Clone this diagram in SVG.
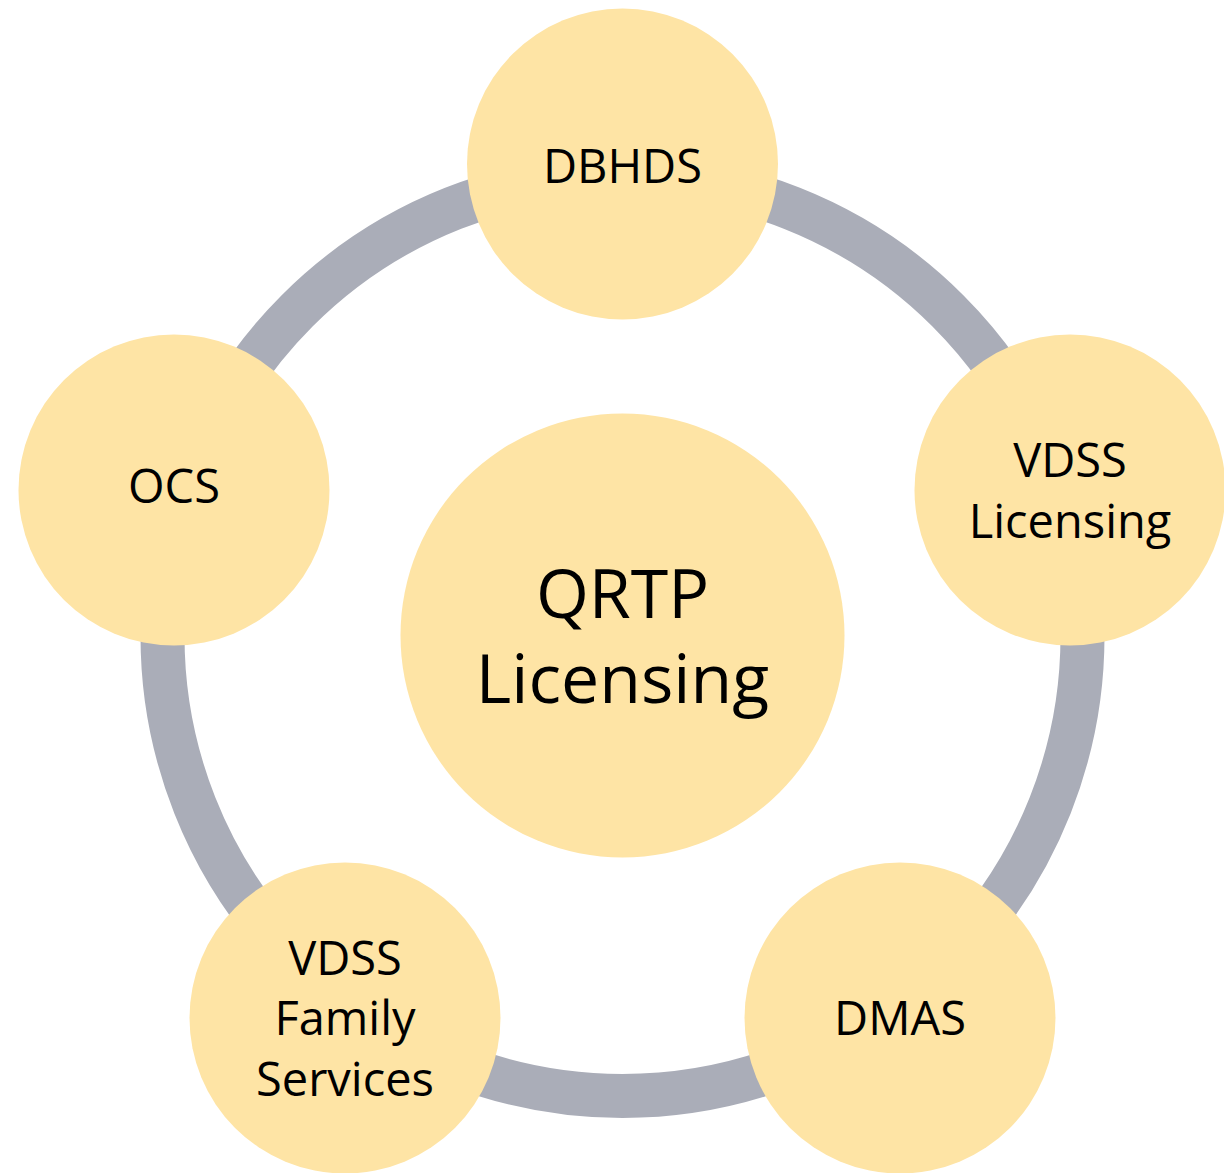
<svg xmlns="http://www.w3.org/2000/svg" width="1224" height="1173" viewBox="0 0 1224 1173">
<style>
.node{fill:#FEE4A5;}
.ring{fill:none;stroke:#AAADB8;stroke-width:44;}
.lbl{font-family:"Open Sans","Noto Sans",sans-serif;font-size:47px;fill:#000;text-anchor:middle;}
.big{font-size:68px;}
</style>
<rect width="1224" height="1173" fill="#fff"/>
<g id="connectors">
<circle class="ring" cx="622.5" cy="636" r="460"/>
</g>
<g id="center">
<circle class="node" cx="622.5" cy="635.5" r="222"/>
<text class="lbl big" x="622.5" y="618">QRTP</text>
<text class="lbl big" x="622.5" y="703">Licensing</text>
</g>
<g id="dbhds">
<circle class="node" cx="622.5" cy="164" r="155.5"/>
<text class="lbl" x="622.5" y="183">DBHDS</text>
</g>
<g id="vdss-licensing">
<circle class="node" cx="1070" cy="490" r="155.5"/>
<text class="lbl" x="1070" y="477">VDSS</text>
<text class="lbl" x="1070" y="538">Licensing</text>
</g>
<g id="dmas">
<circle class="node" cx="900" cy="1018" r="155.5"/>
<text class="lbl" x="900" y="1035">DMAS</text>
</g>
<g id="vdss-family">
<circle class="node" cx="345" cy="1018" r="155.5"/>
<text class="lbl" x="345" y="975">VDSS</text>
<text class="lbl" x="345" y="1035">Family</text>
<text class="lbl" x="345" y="1096">Services</text>
</g>
<g id="ocs">
<circle class="node" cx="174" cy="490" r="155.5"/>
<text class="lbl" x="174" y="503">OCS</text>
</g>
</svg>
